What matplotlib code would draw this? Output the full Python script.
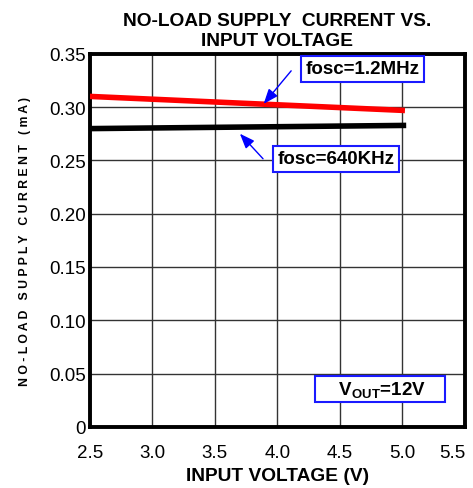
import matplotlib.pyplot as plt

plt.rcParams['font.family'] = ['Liberation Sans', 'DejaVu Sans']
plt.rcParams['mathtext.fontset'] = 'custom'
plt.rcParams['mathtext.bf'] = 'Liberation Sans:bold'
plt.rcParams['mathtext.rm'] = 'Liberation Sans'

# Data
vin = [2.5, 5.02]
i_1200k = [0.310, 0.2968]
vin_640 = [2.5, 5.03]
i_640k = [0.2798, 0.2828]

x_ticks = [2.5, 3.0, 3.5, 4.0, 4.5, 5.0, 5.5]
y_ticks = [0, 0.05, 0.10, 0.15, 0.20, 0.25, 0.30, 0.35]
y_labels = ['0', '0.05', '0.10', '0.15', '0.20', '0.25', '0.30', '0.35']

fig = plt.figure(figsize=(4.73, 4.89), dpi=100)
ax = fig.add_axes([0.19, 0.125, 0.793, 0.763])

ax.plot(vin, i_1200k, color='#ff0000', lw=4, solid_capstyle='butt', zorder=3)
ax.plot(vin_640, i_640k, color='black', lw=4, solid_capstyle='butt', zorder=3)

ax.set_xlim(2.5, 5.5)
ax.set_ylim(0, 0.35)
ax.set_xticks(x_ticks)
ax.set_xticklabels([f'{v:.1f}' for v in x_ticks])
ax.set_yticks(y_ticks)
ax.set_yticklabels(y_labels)
ax.tick_params(length=0, labelsize=13.5)
ax.tick_params(axis='x', pad=12)
ax.tick_params(axis='y', pad=3)
ax.get_xticklabels()[-1].set_horizontalalignment('right')
ax.grid(True, color='#333333', lw=1)
for s in ax.spines.values():
    s.set_linewidth(2.8)

ax.set_title('NO-LOAD SUPPLY  CURRENT VS.\nINPUT VOLTAGE', fontsize=13.8, fontweight='bold',
             linespacing=1.25, pad=6)
ax.set_xlabel('INPUT VOLTAGE (V)', fontsize=13.8, fontweight='bold', labelpad=5)
ax.set_ylabel('N O - L O A D   S U P P L Y   C U R R E N T   ( m A )', fontsize=8.8,
              fontweight='bold', labelpad=13)

box = dict(boxstyle='square,pad=0.25', fc='white', ec='#1a1aff', lw=1.5)
arrow = dict(arrowstyle='-|>,head_length=0.9,head_width=0.35', color='#0000ff', lw=1,
             shrinkA=0, shrinkB=0)

ax.annotate('', xy=(3.89, 0.303), xytext=(4.11, 0.334), arrowprops=arrow)
ax.text(4.68, 0.336, 'fosc=1.2MHz', fontsize=13.5, fontweight='bold', ha='center',
        va='center', bbox=box, zorder=4)

ax.annotate('', xy=(3.70, 0.275), xytext=(3.885, 0.2515), arrowprops=arrow)
ax.text(4.47, 0.2515, 'fosc=640KHz', fontsize=13.5, fontweight='bold', ha='center',
        va='center', bbox=box, zorder=4)

ax.text(4.82, 0.0357, r'    $\mathbf{V_{OUT}}$=12V    ', fontsize=13.5, fontweight='bold',
        ha='center', va='center', zorder=4,
        bbox=dict(boxstyle='square,pad=0.15', fc='white', ec='#1a1aff', lw=1.5))

fig.savefig('out.png', dpi=100)
